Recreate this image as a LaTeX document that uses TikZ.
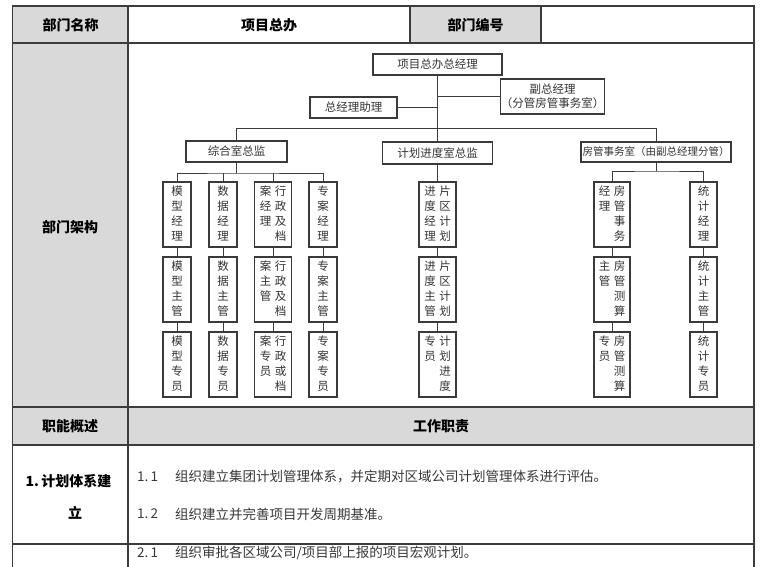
\documentclass[tikz,border=0pt]{standalone}
\usepackage{fontspec}
\setmainfont{Noto Sans CJK SC}
\definecolor{greyc}{HTML}{D9D9D9}
\definecolor{linec}{HTML}{3C3C3C}
\definecolor{boxc}{HTML}{3A3A3A}
\definecolor{txtc}{HTML}{333333}
\definecolor{bodyc}{HTML}{383838}
\newcommand{\vcol}[1]{\begin{tabular}[t]{@{}c@{}}#1\end{tabular}}
\newcommand{\vtxt}[1]{\parbox[c][59pt][t]{1pt}{\centering\makebox[0pt]{#1}}}
\begin{document}
\begin{tikzpicture}[x=1pt,y=-1pt,
  tl/.style={draw=linec,line width=1.1pt},
  ob/.style={draw=boxc,line width=1.2pt,inner sep=0pt,fill=white,text=txtc,font=\fontsize{11.5}{14}\selectfont},
  vb/.style={ob,minimum height=65pt,minimum width=28pt,font=\fontsize{11.5}{15}\selectfont},
  vbw/.style={vb,minimum width=37pt},
  cn/.style={draw=linec,line width=1pt},
  hd/.style={font=\fontsize{14}{16}\selectfont\bfseries,text=black,inner sep=0pt},
  bd/.style={font=\fontsize{13.5}{16}\selectfont,text=bodyc,inner sep=0pt,anchor=west}]
\useasboundingbox (0,0) rectangle (760,567);
\fill[white] (0,0) rectangle (760,567);
% grey cells
\fill[greyc] (12.5,6) rectangle (128,43);
\fill[greyc] (410,6) rectangle (541,43);
\fill[greyc] (12.5,43) rectangle (128,407);
\fill[greyc] (12.5,407) rectangle (754,445);
% table lines
\draw[tl] (12.5,567) -- (12.5,6) -- (754,6) -- (754,567);
\draw[tl] (128,6) -- (128,567);
\draw[tl] (410,6) -- (410,43);
\draw[tl] (541,6) -- (541,43);
\draw[tl] (12.5,43) -- (754,43);
\draw[tl] (12.5,407) -- (754,407);
\draw[tl] (12.5,445) -- (754,445);
\draw[tl] (12.5,544) -- (754,544);
% header texts
\node[hd] (h1) at (70.5,25) {部门名称};
\node[hd] (h2) at (269,25) {项目总办};
\node[hd] (h3) at (475.5,25) {部门编号};
\node[hd] (h4) at (70,227) {部门架构};
\node[hd] (h5) at (70,426) {职能概述};
\node[hd] (h6) at (441,426) {工作职责};
\node[hd] (h7) at (68.5,481) {1.\,计划体系建};
\node[hd] (h8) at (75,513) {立};
% body texts
\node[bd] (n11) at (137,477) {1.\,1};
\node[bd] (t11) at (175,477) {组织建立集团计划管理体系，并定期对区域公司计划管理体系进行评估。};
\node[bd] (n12) at (137,514) {1.\,2};
\node[bd] (t12) at (175,514) {组织建立并完善项目开发周期基准。};
\node[bd] (n21) at (137,553) {2.\,1};
\node[bd] (t21) at (175,553) {组织审批各区域公司/项目部上报的项目宏观计划。};
% org chart top
\node[ob,minimum width=129pt,minimum height=21pt] (gm) at (437.5,64.5) {项目总办总经理};
\node[ob,minimum width=101pt,minimum height=35pt,align=center] (vgm) at (552.5,96.5) {副总经理\\（分管房管事务室）};
\node[ob,minimum width=87pt,minimum height=21pt] (asst) at (353.5,107.5) {总经理助理};
\node[ob,minimum width=101pt,minimum height=21pt] (zh) at (236.5,151.5) {综合室总监};
\node[ob,minimum width=110pt,minimum height=22pt] (jh) at (437.5,153) {计划进度室总监};
\node[ob,minimum width=150pt,minimum height=20pt,font=\fontsize{10.5}{12}\selectfont] (fg) at (656,152) {房管事务室（由副总经理分管）};
% vertical boxes row 1
\node[vb] (a1) at (177,214.5) {\vtxt{\vcol{模\\型\\经\\理}}};
\node[vb] (b1) at (223,214.5) {\vtxt{\vcol{数\\据\\经\\理}}};
\node[vbw] (c1) at (273,214.5) {\vtxt{\vcol{案\\经\\理}\hspace{3.5pt}\vcol{行\\政\\及\\档}}};
\node[vb] (d1) at (323,214.5) {\vtxt{\vcol{专\\案\\经\\理}}};
\node[vbw] (e1) at (437.5,214.5) {\vtxt{\vcol{进\\度\\经\\理}\hspace{3.5pt}\vcol{片\\区\\计\\划}}};
\node[vb,minimum width=36pt] (f1) at (612,214.5) {\vtxt{\vcol{经\\理}\hspace{3.5pt}\vcol{房\\管\\事\\务}}};
\node[vb,minimum width=27pt] (g1) at (703.5,214.5) {\vtxt{\vcol{统\\计\\经\\理}}};
% row 2
\node[vb] (a2) at (177,289.5) {\vtxt{\vcol{模\\型\\主\\管}}};
\node[vb] (b2) at (223,289.5) {\vtxt{\vcol{数\\据\\主\\管}}};
\node[vbw] (c2) at (273,289.5) {\vtxt{\vcol{案\\主\\管}\hspace{3.5pt}\vcol{行\\政\\及\\档}}};
\node[vb] (d2) at (323,289.5) {\vtxt{\vcol{专\\案\\主\\管}}};
\node[vbw] (e2) at (437.5,289.5) {\vtxt{\vcol{进\\度\\主\\管}\hspace{3.5pt}\vcol{片\\区\\计\\划}}};
\node[vb,minimum width=36pt] (f2) at (612,289.5) {\vtxt{\vcol{主\\管}\hspace{3.5pt}\vcol{房\\管\\测\\算}}};
\node[vb,minimum width=27pt] (g2) at (703.5,289.5) {\vtxt{\vcol{统\\计\\主\\管}}};
% row 3
\node[vb] (a3) at (177,364.5) {\vtxt{\vcol{模\\型\\专\\员}}};
\node[vb] (b3) at (223,364.5) {\vtxt{\vcol{数\\据\\专\\员}}};
\node[vbw] (c3) at (273,364.5) {\vtxt{\vcol{案\\专\\员}\hspace{3.5pt}\vcol{行\\政\\或\\档}}};
\node[vb] (d3) at (323,364.5) {\vtxt{\vcol{专\\案\\专\\员}}};
\node[vbw] (e3) at (437.5,364.5) {\vtxt{\vcol{专\\员}\hspace{3.5pt}\vcol{计\\划\\进\\度}}};
\node[vb,minimum width=36pt] (f3) at (612,364.5) {\vtxt{\vcol{专\\员}\hspace{3.5pt}\vcol{房\\管\\测\\算}}};
\node[vb,minimum width=27pt] (g3) at (703.5,364.5) {\vtxt{\vcol{统\\计\\专\\员}}};
% connectors
\draw[cn] (gm.south) -- (jh.north);
\draw[cn] (gm.south |- vgm.west) -- (vgm.west);
\draw[cn] (asst.east) -- (asst.east -| gm.south);
\coordinate (busL) at (236.5,129);
\draw[cn] (zh.north) -- (busL) -| (fg.north);
\coordinate (zb) at (236.5,173);
\draw[cn] (zh.south) -- (zb);
\draw[cn] (a1.north) |- (zb) -| (d1.north);
\draw[cn] (b1.north) -- (b1.north |- zb);
\draw[cn] (c1.north) -- (c1.north |- zb);
\draw[cn] (jh.south) -- (e1.north);
\coordinate (fb) at (656,171);
\draw[cn] (fg.south) -- (fb);
\draw[cn] (f1.north) |- (fb) -| (g1.north);
\foreach \k in {a,b,c,d,e,f,g}{
  \draw[cn] (\k1.south) -- (\k2.north);
  \draw[cn] (\k2.south) -- (\k3.north);
}
\end{tikzpicture}
\end{document}
